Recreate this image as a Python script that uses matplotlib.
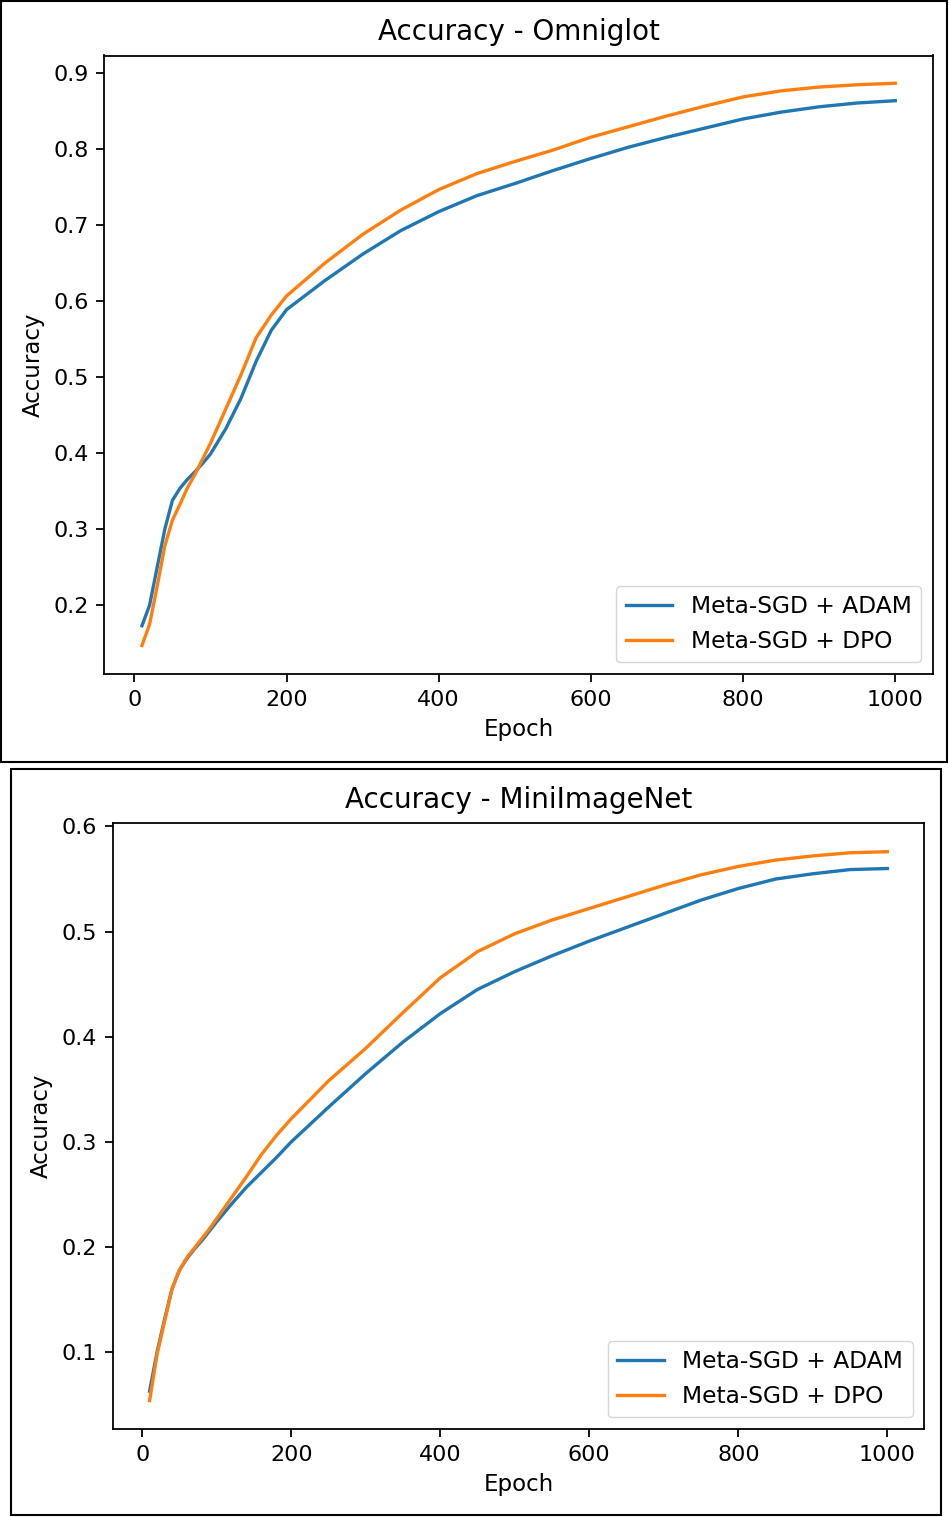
import matplotlib
matplotlib.use("Agg")
import matplotlib.pyplot as plt
from matplotlib.patches import Rectangle

epochs = [10, 20, 30, 40, 50, 60, 70, 80, 90, 100, 120, 140, 160, 180, 200,
          250, 300, 350, 400, 450, 500, 550, 600, 650, 700, 750, 800, 850,
          900, 950, 1000]

# Omniglot accuracy
omni_adam = [0.173, 0.200, 0.250, 0.300, 0.338, 0.354, 0.366, 0.376, 0.387,
             0.399, 0.432, 0.472, 0.521, 0.562, 0.589, 0.627, 0.662, 0.693,
             0.718, 0.739, 0.755, 0.772, 0.788, 0.803, 0.816, 0.828, 0.840,
             0.849, 0.856, 0.861, 0.864]
omni_dpo = [0.147, 0.175, 0.225, 0.278, 0.312, 0.333, 0.355, 0.373, 0.393,
            0.413, 0.458, 0.503, 0.552, 0.582, 0.607, 0.650, 0.688, 0.720,
            0.747, 0.768, 0.784, 0.799, 0.816, 0.830, 0.844, 0.857, 0.869,
            0.877, 0.882, 0.885, 0.887]

# MiniImageNet accuracy
mini_adam = [0.063, 0.100, 0.131, 0.160, 0.178, 0.189, 0.198, 0.206, 0.215,
             0.224, 0.241, 0.257, 0.271, 0.285, 0.300, 0.333, 0.365, 0.395,
             0.422, 0.445, 0.462, 0.477, 0.491, 0.504, 0.517, 0.530, 0.541,
             0.550, 0.555, 0.559, 0.560]
mini_dpo = [0.054, 0.098, 0.129, 0.160, 0.178, 0.190, 0.199, 0.208, 0.217,
            0.227, 0.247, 0.267, 0.288, 0.306, 0.322, 0.358, 0.389, 0.423,
            0.456, 0.481, 0.498, 0.511, 0.522, 0.533, 0.544, 0.554, 0.562,
            0.568, 0.572, 0.575, 0.576]

labels = ["Meta-SGD + ADAM", "Meta-SGD + DPO"]

s = 1.6  # the original was rendered at a larger scale
plt.rcParams.update({
    "font.size": 10 * s,
    "axes.labelsize": 16.5,
    "legend.fontsize": 16.8,
    "axes.linewidth": 0.8 * s,
    "xtick.major.size": 3.5 * s,
    "ytick.major.size": 3.5 * s,
    "xtick.major.width": 0.8 * s,
    "ytick.major.width": 0.8 * s,
    "xtick.major.pad": 3.5 * s,
    "ytick.major.pad": 3.5 * s,
    "axes.labelpad": 4 * s,
    "lines.linewidth": 1.5 * s,
})

fig = plt.figure(figsize=(9.49, 15.17), dpi=100)
W, H = 949, 1517

# black frames around each panel
for (x0, y0, x1, y1) in [(1, 1, 947, 762), (11, 769, 941, 1515)]:
    fig.patches.append(Rectangle((x0 / W, 1 - y1 / H), (x1 - x0) / W, (y1 - y0) / H,
                                 transform=fig.transFigure, fill=False,
                                 edgecolor="black", linewidth=1.5))

ax1 = fig.add_axes([104.3 / W, 1 - 674 / H, (933 - 104.3) / W, (674 - 55.5) / H])
ax2 = fig.add_axes([112.7 / W, 1 - 1429 / H, (924.3 - 112.7) / W, (1429 - 823.3) / H])

ax1.plot(epochs, omni_adam, label=labels[0])
ax1.plot(epochs, omni_dpo, label=labels[1])
ax1.set_title("Accuracy - Omniglot", fontsize=20, pad=11)
ax1.set_xlabel("Epoch")
ax1.set_ylabel("Accuracy")
ax1.set_xlim(-39.5, 1049.5)
ax1.set_ylim(0.1095, 0.9235)
ax1.set_xticks([0, 200, 400, 600, 800, 1000])
ax1.set_yticks([0.2, 0.3, 0.4, 0.5, 0.6, 0.7, 0.8, 0.9])
ax1.legend(loc="lower right")

ax2.plot(epochs, mini_adam, label=labels[0])
ax2.plot(epochs, mini_dpo, label=labels[1])
ax2.set_title("Accuracy - MiniImageNet", fontsize=20, pad=11)
ax2.set_xlabel("Epoch")
ax2.set_ylabel("Accuracy")
ax2.set_xlim(-39.5, 1049.5)
ax2.set_ylim(0.027, 0.603)
ax2.set_xticks([0, 200, 400, 600, 800, 1000])
ax2.set_yticks([0.1, 0.2, 0.3, 0.4, 0.5, 0.6])
ax2.legend(loc="lower right")

fig.savefig("out.png", dpi=100)
